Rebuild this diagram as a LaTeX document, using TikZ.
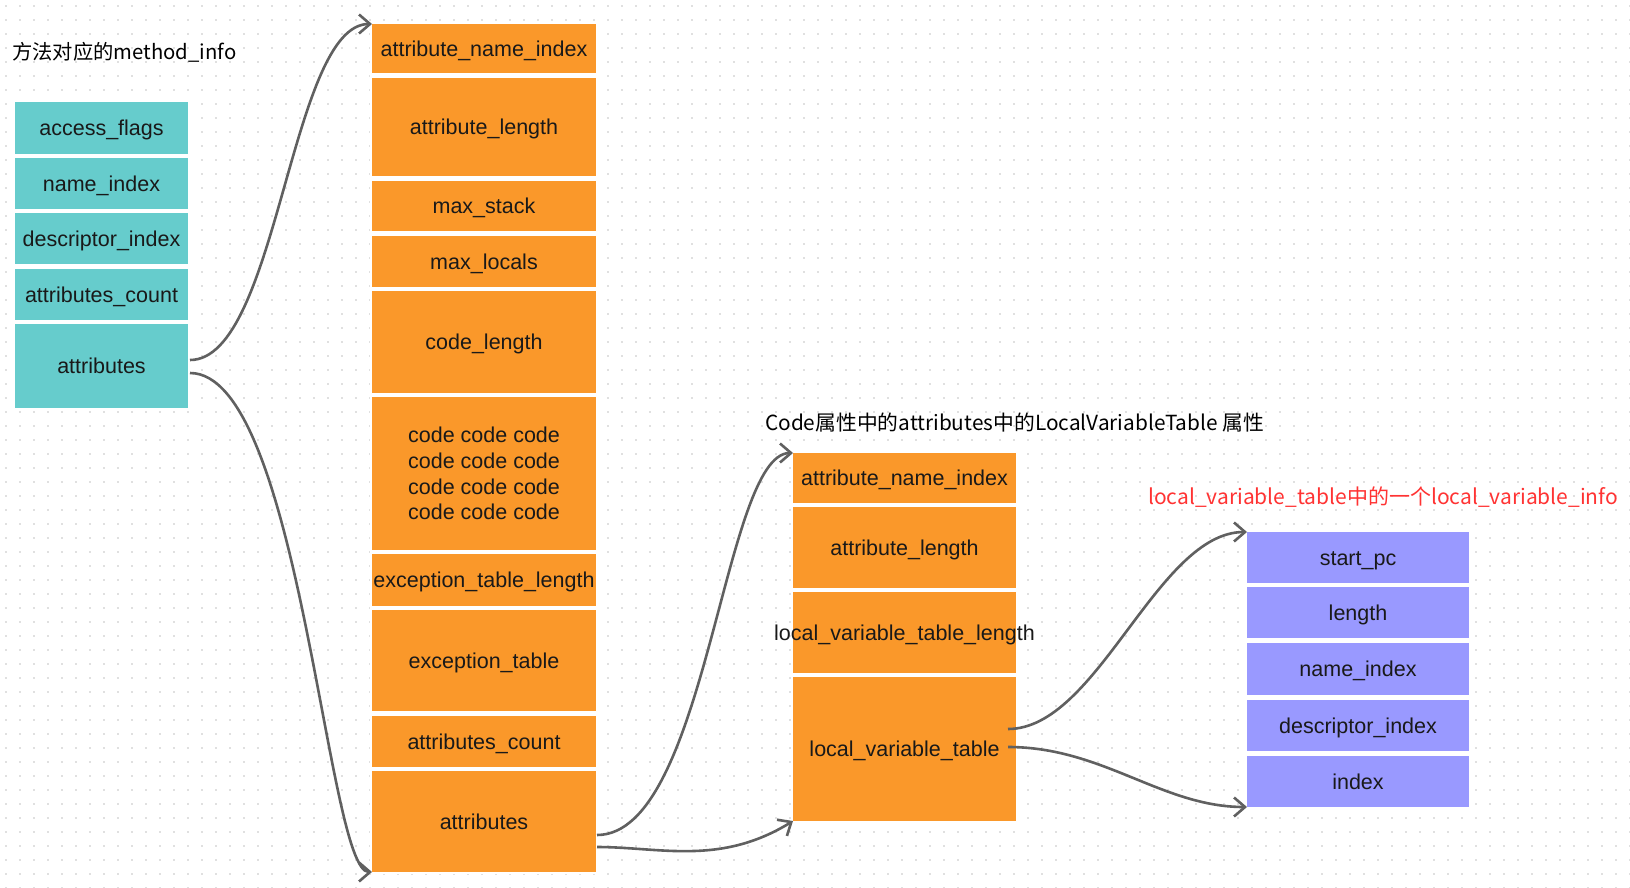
\documentclass[tikz,border=0pt]{standalone}
\usepackage{fontspec}
\setmainfont{Liberation Sans}
\newfontfamily\cjk{Noto Sans CJK SC}
\usetikzlibrary{arrows.meta}
\definecolor{tealc}{RGB}{102,204,204}
\definecolor{orangec}{RGB}{250,152,42}
\definecolor{purplec}{RGB}{153,153,255}
\definecolor{linec}{RGB}{96,96,96}
\definecolor{txt}{RGB}{25,25,25}
\definecolor{redt}{RGB}{255,51,51}
\definecolor{dotc}{RGB}{224,224,224}
\begin{document}
\begin{tikzpicture}[x=1pt,y=-1pt,
  base/.style={rectangle, inner sep=0pt, outer sep=0pt, anchor=north west, text=txt,
    font=\fontsize{21.5}{25.7}\selectfont, align=center},
  cell/.style={base, text height=15.4pt, text depth=0pt},
  tc/.style={cell, fill=tealc, minimum width=173pt},
  oc/.style={cell, fill=orangec, minimum width=224pt},
  ocm/.style={base, fill=orangec, minimum width=224pt},
  mc/.style={cell, fill=orangec, minimum width=223pt},
  pc/.style={cell, fill=purplec, minimum width=222pt},
  ttl/.style={anchor=west, inner sep=0pt},
  link/.style={draw=linec, line width=2.6pt, -{Straight Barb[length=11pt,width=19pt]}},
]
\useasboundingbox (0,0) rectangle (1630,888);
\fill[white] (0,0) rectangle (1630,888);
\foreach \yy in {6,20,...,888}
  \draw[dotc, line width=1.5pt, dash pattern=on 1.5pt off 12.5pt] (5,\yy) -- (1630,\yy);

% titles
\node[ttl, font=\cjk\fontsize{20.3}{24}\selectfont] (title1) at (12,52) {方法对应的method\_info};
\node[ttl, font=\cjk\fontsize{20.8}{24}\selectfont] (title2) at (765,423) {Code属性中的attributes中的LocalVariableTable 属性};
\node[ttl, font=\cjk\fontsize{21}{24}\selectfont, text=redt] (title3) at (1148,497) {local\_variable\_table中的一个local\_variable\_info};

% white backgrounds behind columns
\fill[white] (13,100) rectangle (190,410);
\fill[white] (370,22) rectangle (598,874);
\fill[white] (791,451) rectangle (1018,823);
\fill[white] (1245,530) rectangle (1471,809);

% method_info (teal)
\node[tc, minimum height=52pt] (t1) at (15,102) {access\_flags};
\node[tc, minimum height=51pt] (t2) at (15,158) {name\_index};
\node[tc, minimum height=51pt] (t3) at (15,213) {descriptor\_index};
\node[tc, minimum height=51pt] (t4) at (15,269) {attributes\_count};
\node[tc, minimum height=84pt] (t5) at (15,324) {attributes};

% Code attribute (orange)
\node[oc, minimum height=49pt]  (o1) at (372,24) {attribute\_name\_index};
\node[oc, minimum height=98pt]  (o2) at (372,78) {attribute\_length};
\node[oc, minimum height=50pt]  (o3) at (372,181) {max\_stack};
\node[oc, minimum height=51pt]  (o4) at (372,236) {max\_locals};
\node[oc, minimum height=102pt] (o5) at (372,291) {code\_length};
\node[ocm, minimum height=153pt] (o6) at (372,397) {code code code\\code code code\\code code code\\code code code};
\node[oc, minimum height=52pt]  (o7) at (372,554) {\makebox[224pt][c]{exception\_table\_length}};
\node[oc, minimum height=101pt] (o8) at (372,610) {exception\_table};
\node[oc, minimum height=51pt]  (o9) at (372,716) {attributes\_count};
\node[oc, minimum height=101pt] (o10) at (372,771) {attributes};

% LocalVariableTable (orange)
\node[mc, minimum height=50pt]  (m1) at (793,453) {attribute\_name\_index};
\node[mc, minimum height=81pt]  (m2) at (793,507) {attribute\_length};
\node[mc, minimum height=81pt]  (m3) at (793,592) {\makebox[223pt][c]{local\_variable\_table\_length}};
\node[mc, minimum height=144pt] (m4) at (793,677) {local\_variable\_table};

% local_variable_info (purple)
\node[pc, minimum height=51pt] (p1) at (1247,532) {start\_pc};
\node[pc, minimum height=51pt] (p2) at (1247,587) {length};
\node[pc, minimum height=52pt] (p3) at (1247,643) {name\_index};
\node[pc, minimum height=51pt] (p4) at (1247,700) {descriptor\_index};
\node[pc, minimum height=51pt] (p5) at (1247,756) {index};

% connector start points
\coordinate (ta) at ([xshift=2pt,yshift=6pt]t5.east);
\coordinate (tb) at ([xshift=2pt,yshift=-7pt]t5.east);
\coordinate (oa) at ([xshift=1pt,yshift=-13.5pt]o10.east);
\coordinate (ob) at ([xshift=1pt,yshift=-25.5pt]o10.east);
\coordinate (ma) at ([xshift=-8pt,yshift=20pt]m4.east);
\coordinate (mb) at ([xshift=-8pt,yshift=2pt]m4.east);

% connectors
\draw[link] (ta) .. controls +(88,0) and +(-82,0) .. (o1.north west);
\draw[link] (tb) .. controls +(110,0) and +(-45,0) .. (o10.south west);
\draw[link] (oa) .. controls +(110,0) and +(-70,0) .. (m1.north west);
\draw[link] (ob) .. controls +(63,0) and +(-73,45) .. (m4.south west);
\draw[link] (ma) .. controls +(90,0) and +(-90,0) .. (p1.north west);
\draw[link] (mb) .. controls +(95,0) and +(-85,0) .. (p5.south west);
\end{tikzpicture}
\end{document}
